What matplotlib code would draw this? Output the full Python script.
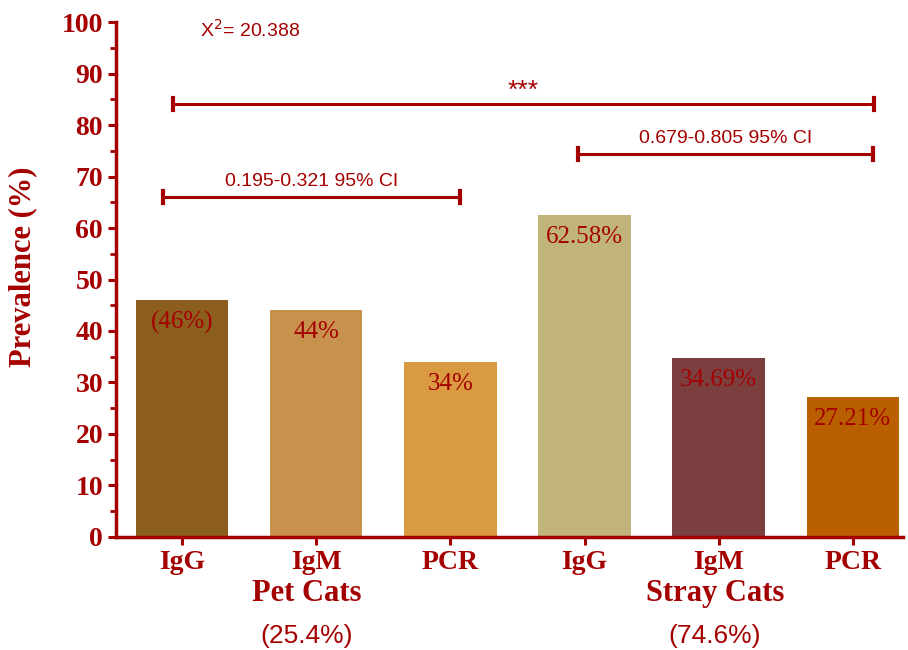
import matplotlib
matplotlib.use("Agg")
import matplotlib.pyplot as plt
import matplotlib.transforms as mtransforms
from matplotlib.ticker import MultipleLocator

# data
tests = ["IgG", "IgM", "PCR", "IgG", "IgM", "PCR"]
prevalence = [46, 44, 34, 62.58, 34.69, 27.21]
bar_labels = ["(46%)", "44%", "34%", "62.58%", "34.69%", "27.21%"]
bar_colors = ["#8b5e1e", "#c8914e", "#d99a42", "#c0b47a", "#7b3f40", "#ba5f00"]
groups = ["Pet Cats", "Stray Cats"]
group_share = ["(25.4%)", "(74.6%)"]
group_centers = [0.93, 3.97]

# brackets: (x start, x end, y, label)
brackets = [
    (-0.07, 5.16, 84.1, "***"),
    (-0.14, 2.07, 66.0, "0.195-0.321 95% CI"),
    (2.95, 5.15, 74.4, "0.679-0.805 95% CI"),
]
chi_text = "X$^2$= 20.388"

red = "#a50000"
serif = ["Liberation Serif", "DejaVu Serif"]
sans = ["Liberation Sans", "DejaVu Sans"]

fig = plt.figure(figsize=(9.08, 6.5), dpi=100)
ax = fig.add_axes([0.128, 0.174, 0.866, 0.792])

x = list(range(len(tests)))
ax.bar(x, prevalence, width=0.69, color=bar_colors, zorder=2)

for xi, v, lab in zip(x, prevalence, bar_labels):
    ax.annotate(lab, (xi, v), xytext=(0, -8), textcoords="offset points",
                ha="center", va="top", color=red, fontsize=18, family=serif)

# significance brackets
for x0, x1, y, lab in brackets:
    ax.plot([x0, x1], [y, y], color=red, lw=2.2, solid_capstyle="butt")
    for xx in (x0, x1):
        ax.plot([xx, xx], [y - 1.1, y + 1.1], color=red, lw=3)
    if lab == "***":
        ax.text((x0 + x1) / 2, y + 0.3, lab, ha="center", va="bottom",
                color=red, fontsize=19, family=sans)
    else:
        ax.text((x0 + x1) / 2, y + 1.3, lab, ha="center", va="bottom",
                color=red, fontsize=14, family=sans)

ax.text(0.51, 98.4, chi_text, ha="center", va="center", color=red,
        fontsize=14, family=sans)

ax.set_xlim(-0.49, 5.37)
ax.set_ylim(0, 100)
ax.yaxis.set_major_locator(MultipleLocator(10))
ax.yaxis.set_minor_locator(MultipleLocator(5))
ax.set_xticks(x)
ax.set_xticklabels(tests)

for s in ["top", "right"]:
    ax.spines[s].set_visible(False)
for s in ["left", "bottom"]:
    ax.spines[s].set_color(red)
    ax.spines[s].set_linewidth(2.5)

ax.tick_params(axis="both", which="major", colors=red, width=2.2, length=6)
ax.tick_params(axis="y", which="minor", colors=red, width=2, length=4)
for t in ax.get_xticklabels() + ax.get_yticklabels():
    t.set_fontfamily(serif)
    t.set_fontweight("bold")
    t.set_fontsize(20)
    t.set_color(red)

ax.set_ylabel("Prevalence (%)", color=red, fontsize=22, fontweight="bold",
              family=serif)
ax.yaxis.set_label_coords(-0.1, 0.524)

trans = mtransforms.blended_transform_factory(ax.transData, ax.transAxes)
for cx, g, share in zip(group_centers, groups, group_share):
    ax.text(cx, -0.109, g, transform=trans, ha="center", va="center",
            color=red, fontsize=22, fontweight="bold", family=serif)
    ax.text(cx, -0.192, share, transform=trans, ha="center", va="center",
            color=red, fontsize=19, family=sans)

fig.savefig("out.png", dpi=100)
